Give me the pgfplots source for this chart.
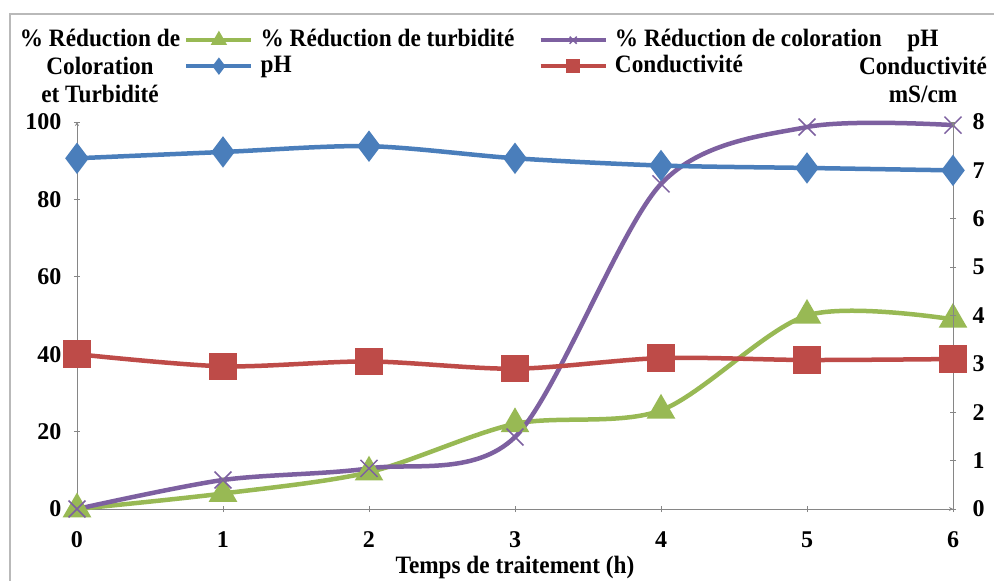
\documentclass[border=0pt]{standalone}
\usepackage{fontspec}
\setmainfont{Liberation Serif}
\newfontfamily\lab{Liberation Serif}[FakeStretch=0.93]
\usepackage{pgfplots}
\pgfplotsset{compat=1.18}
\definecolor{cblue}{HTML}{4A7EBB}
\definecolor{cred}{HTML}{BE4B48}
\definecolor{cgreen}{HTML}{98B954}
\definecolor{cpurple}{HTML}{7D60A0}
\definecolor{axgray}{HTML}{868686}
\newcommand{\ff}{\fontsize{25}{28}\selectfont\lab\bfseries}
\newcommand{\tf}{\fontsize{24}{28}\selectfont\bfseries}
\pgfplotsset{
  mystyle/.style={
    scale only axis, width=876pt, height=387pt, at={(0pt,0pt)}, anchor=south west,
    xmin=0, xmax=6, clip=false,
    font=\ff,
    tick label style={font=\tf},
    /pgf/number format/assume math mode=true,
    tick align=outside, major tick length=6pt,
    tick style={axgray, line width=0.8pt},
    axis line style={-, axgray, line width=0.8pt},
  },
  turb/.style={cgreen, line width=4.5pt, smooth, mark=triangle*, mark size=12pt, mark options={solid, fill=cgreen}},
  colo/.style={cpurple, line width=4.5pt, smooth, mark=x, mark size=12pt, mark options={solid, line width=1.5pt}},
  phs/.style={cblue, line width=4.5pt, smooth, mark=diamond*, mark size=12pt, mark options={solid, fill=cblue}},
  cond/.style={cred, line width=4.5pt, smooth, mark=square*, mark size=11.5pt, mark options={solid, fill=cred}},
}
\begin{document}
\begin{tikzpicture}
\useasboundingbox[fill=white] (-77pt,-72pt) rectangle (917pt,509pt);
\draw[gray!55, line width=2.5pt] (-67pt,-80pt) -- (-67pt,495pt) -- (930pt,495pt);

\begin{axis}[mystyle,
  axis x line=bottom, axis y line=left,
  ymin=0, ymax=100, ytick={0,20,...,100}, xtick={0,...,6},
  xticklabel style={yshift=-16pt},
  yticklabel style={xshift=-9pt},
  xlabel={Temps de traitement (h)},
  xlabel style={at={(axis description cs:0.5,0)}, anchor=center, yshift=-58pt},
  ylabel={\% Réduction de\\Coloration\\et Turbidité},
  ylabel style={rotate=-90, align=center, at={(rel axis cs:0,1)}, anchor=center, xshift=23pt, yshift=56pt},
]
\addplot[turb] coordinates {(0,0)(1,4)(2,9.5)(3,22)(4,25.5)(5,50)(6,49)};
\addplot[colo] coordinates {(0,0)(1,7.5)(2,10.5)(3,18.6)(4,84)(5,98.7)(6,99.2)};
\end{axis}

\begin{axis}[mystyle,
  axis x line=none, axis y line=right,
  ymin=0, ymax=8, ytick={0,...,8},
  yticklabel style={xshift=13pt},
  ylabel={pH\\Conductivité\\mS/cm},
  ylabel style={rotate=-90, align=center, at={(rel axis cs:1,1)}, anchor=center, xshift=-30pt, yshift=56pt},
  legend columns=2, legend cell align=left,
  legend image code/.code={\draw[mark repeat=2,mark phase=2,#1, mark size=5pt] plot coordinates {(0pt,0pt) (32.5pt,0pt) (65pt,0pt)};},
  legend style={draw=none, fill=none, font=\ff, at={(0.1221,1.2429)}, anchor=north west, inner sep=0pt,
    nodes={inner sep=0pt, text height=18pt, text depth=6pt}, row sep=2pt, column sep=7pt,
    /tikz/every even column/.append style={column sep=24pt}},
]
\addlegendimage{turb}
\addlegendentry{\% Réduction de turbidité}
\addlegendimage{colo}
\addlegendentry{\% Réduction de coloration}
\addplot[phs] coordinates {(0,7.25)(1,7.38)(2,7.5)(3,7.25)(4,7.1)(5,7.05)(6,7.0)};
\addlegendentry{pH}
\addplot[cond] coordinates {(0,3.2)(1,2.95)(2,3.05)(3,2.9)(4,3.12)(5,3.08)(6,3.1)};
\addlegendentry{Conductivité}
\end{axis}
\end{tikzpicture}
\end{document}
